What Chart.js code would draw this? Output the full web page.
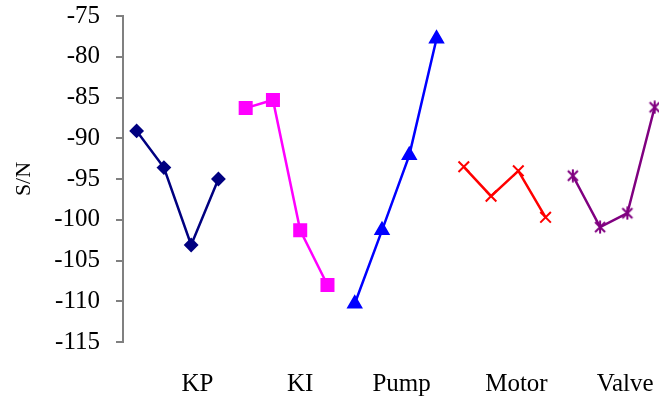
<!DOCTYPE html>
<html lang="en">
<head>
    <meta charset="UTF-8">
    <title>S/N by factor</title>
    <script src="https://cdn.jsdelivr.net/npm/chart.js"></script>
    <style>
        body { margin: 0; background: #fff; }
        #chartBox { width: 659px; height: 398px; }
    </style>
</head>
<body>
    <div id="chartBox"><canvas id="snChart"></canvas></div>

    <script>
        // factor names and S/N values at the four levels of each factor
        const factors = ['KP', 'KI', 'Pump', 'Motor', 'Valve'];
        const kpValues = [-89.1, -93.6, -103.1, -95.0];
        const kiValues = [-86.3, -85.3, -101.3, -108.0];
        const pumpValues = [-110.3, -101.3, -92.1, -77.8];
        const motorValues = [-93.5, -97.1, -94.0, -99.7];
        const valveValues = [-94.6, -100.9, -99.2, -86.2];
        const yTicks = [-115, -110, -105, -100, -95, -90, -85, -80, -75];

        // where the factor names sit along the level axis
        const labelSpots = [3.23, 7.0, 10.72, 14.93, 18.92];

        // excel style "star" marker: an x with a vertical bar
        function starMarker(color) {
            const c = document.createElement('canvas');
            c.width = 14; c.height = 14;
            const g = c.getContext('2d');
            g.strokeStyle = color;
            g.lineWidth = 2;
            g.beginPath();
            g.moveTo(2, 2); g.lineTo(12, 12);
            g.moveTo(12, 2); g.lineTo(2, 12);
            g.moveTo(7, 0.5); g.lineTo(7, 13.5);
            g.stroke();
            return c;
        }

        function series(values, group, color, style, radius) {
            return {
                data: values.map((v, i) => ({ x: group * 4 + i + 1, y: v })),
                borderColor: color,
                backgroundColor: color,
                borderWidth: 2.5,
                pointStyle: style,
                pointRadius: radius,
                pointBorderWidth: 2,
                pointBackgroundColor: color,
                pointBorderColor: color,
                tension: 0,
                clip: false
            };
        }

        const ctx = document.getElementById('snChart').getContext('2d');
        new Chart(ctx, {
            type: 'line',
            data: {
                datasets: [
                    series(kpValues, 0, '#000080', 'rectRot', 6),
                    series(kiValues, 1, '#FF00FF', 'rect', 8.5),
                    series(pumpValues, 2, '#0000FF', 'triangle', 7.5),
                    series(motorValues, 3, '#FF0000', 'crossRot', 7.5),
                    series(valveValues, 4, '#800080', starMarker('#800080'), 7)
                ]
            },
            options: {
                responsive: true,
                maintainAspectRatio: false,
                animation: false,
                layout: { autoPadding: false, padding: { top: 16, left: 0, right: 0, bottom: 0 } },
                plugins: {
                    legend: { display: false },
                    tooltip: { enabled: false }
                },
                scales: {
                    x: {
                        type: 'linear',
                        min: 0.5,
                        max: 20.16,
                        border: { display: false },
                        grid: { display: false, drawTicks: false },
                        afterBuildTicks: scale => {
                            scale.ticks = labelSpots.map(v => ({ value: v }));
                        },
                        afterFit: scale => {
                            scale.height = 56;
                            scale.paddingLeft = 0;
                            scale.paddingRight = 0;
                        },
                        ticks: {
                            autoSkip: false,
                            maxRotation: 0,
                            padding: 27,
                            color: '#000',
                            font: { family: 'Liberation Serif', size: 25 },
                            callback: (value, index) => factors[index]
                        }
                    },
                    y: {
                        min: -115,
                        max: -75,
                        border: { display: true, color: '#808080', width: 2 },
                        grid: {
                            drawOnChartArea: false,
                            drawTicks: true,
                            tickLength: 7,
                            color: '#808080',
                            lineWidth: 2
                        },
                        afterBuildTicks: scale => {
                            scale.ticks = yTicks.map(v => ({ value: v }));
                        },
                        afterFit: scale => {
                            scale.width = 123;
                            scale.paddingTop = 0;
                            scale.paddingBottom = 0;
                        },
                        title: {
                            display: true,
                            text: 'S/N',
                            color: '#000',
                            padding: { top: 11, bottom: 0 },
                            font: { family: 'Liberation Serif', size: 22, weight: 'normal' }
                        },
                        ticks: {
                            padding: 16,
                            color: '#000',
                            font: { family: 'Liberation Serif', size: 25 }
                        }
                    }
                }
            }
        });
    </script>
</body>
</html>
